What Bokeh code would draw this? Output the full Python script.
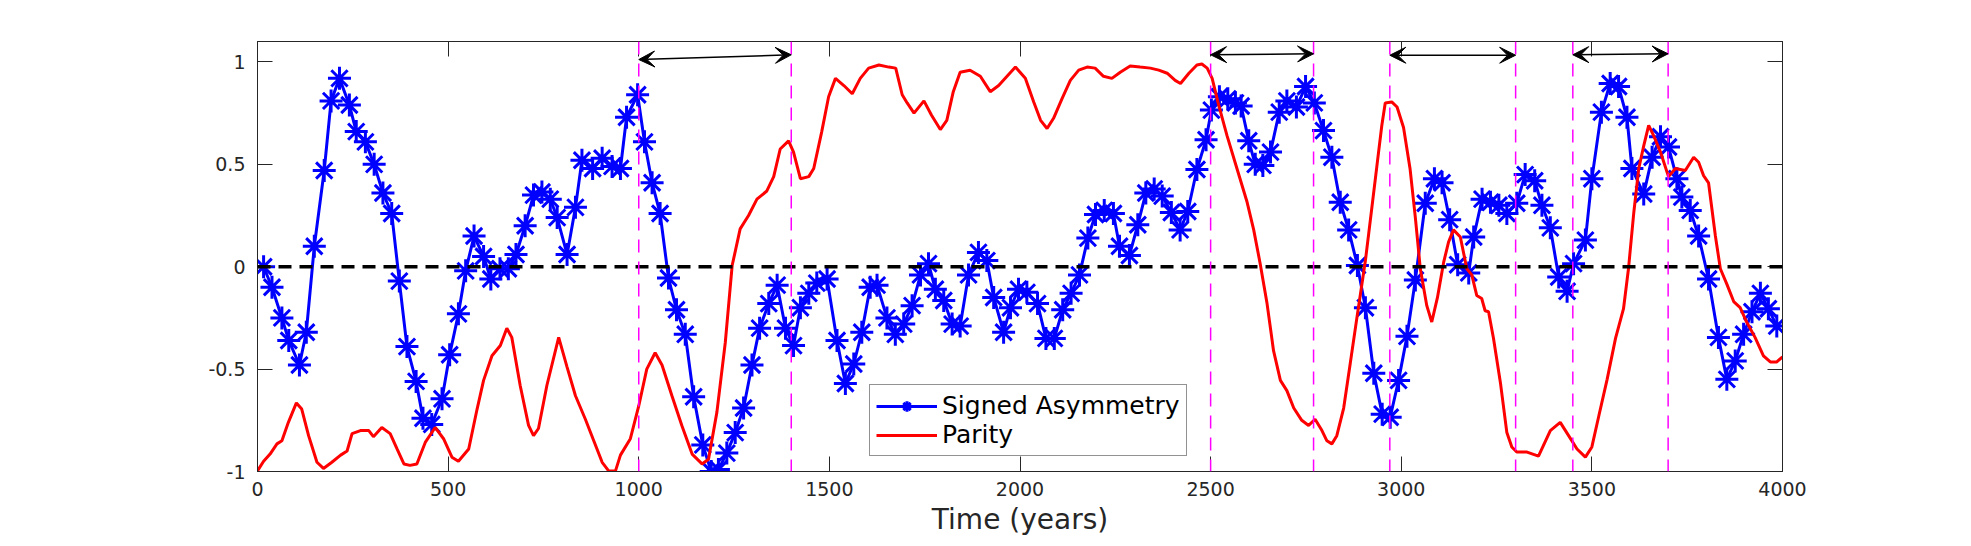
from bokeh.plotting import figure
from bokeh.models import (Range1d, LinearAxis, FixedTicker, Span, Arrow, VeeHead,
                          Legend, LegendItem, ColumnDataSource)
from bokeh.embed import file_html
from bokeh.resources import INLINE

# ---------------- data ----------------
asym_years = [16, 38, 64, 82, 110, 128, 149, 175, 193, 215,
              241, 259, 283, 306, 329, 352, 372, 392, 416, 434,
              457, 484, 504, 527, 546, 568, 593, 612, 636, 658,
              678, 702, 724, 746, 768, 786, 812, 834, 851, 879,
              904, 930, 952, 968, 997, 1015, 1035, 1056, 1078, 1099,
              1122, 1144, 1168, 1190, 1209, 1231, 1253, 1275, 1297, 1317,
              1341, 1363, 1385, 1406, 1424, 1446, 1467, 1494, 1520, 1542,
              1564, 1585, 1607, 1625, 1651, 1673, 1695, 1717, 1739, 1760,
              1778, 1800, 1822, 1843, 1865, 1891, 1913, 1931, 1957, 1975,
              1996, 2018, 2046, 2068, 2090, 2112, 2134, 2156, 2178, 2198,
              2221, 2245, 2261, 2287, 2309, 2330, 2352, 2373, 2397, 2420,
              2440, 2464, 2488, 2502, 2523, 2545, 2565, 2580, 2600, 2617,
              2637, 2657, 2680, 2700, 2725, 2749, 2772, 2796, 2818, 2840,
              2862, 2885, 2906, 2928, 2950, 2971, 2993, 3015, 3037, 3063,
              3087, 3107, 3127, 3148, 3177, 3190, 3212, 3234, 3256, 3277,
              3303, 3325, 3350, 3369, 3391, 3413, 3435, 3452, 3483, 3500,
              3525, 3548, 3570, 3592, 3605, 3636, 3658, 3680, 3701, 3723,
              3736, 3758, 3780, 3806, 3832, 3854, 3876, 3898, 3920, 3942,
              3963, 3985]
asym_values = [0.00, -0.10, -0.25, -0.36, -0.48, -0.32, 0.10, 0.47, 0.81, 0.92,
               0.79, 0.66, 0.61, 0.50, 0.36, 0.26, -0.07, -0.39, -0.56, -0.74,
               -0.77, -0.645, -0.43, -0.23, -0.02, 0.15, 0.05, -0.06, -0.01, -0.01,
               0.06, 0.20, 0.35, 0.365, 0.33, 0.24, 0.06, 0.29, 0.52, 0.48,
               0.53, 0.49, 0.48, 0.73, 0.84, 0.61, 0.41, 0.26, -0.055, -0.21,
               -0.33, -0.635, -0.87, -1.00, -0.99, -0.91, -0.81, -0.69, -0.48, -0.30,
               -0.18, -0.09, -0.30, -0.385, -0.20, -0.13, -0.08, -0.06, -0.36, -0.57,
               -0.475, -0.32, -0.10, -0.09, -0.25, -0.33, -0.28, -0.19, -0.04, 0.015,
               -0.11, -0.165, -0.28, -0.29, -0.04, 0.07, 0.03, -0.15, -0.32, -0.20,
               -0.11, -0.125, -0.18, -0.35, -0.35, -0.21, -0.13, -0.04, 0.14, 0.255,
               0.275, 0.26, 0.10, 0.055, 0.205, 0.36, 0.38, 0.345, 0.265, 0.18,
               0.27, 0.475, 0.62, 0.765, 0.83, 0.82, 0.80, 0.785, 0.615, 0.50,
               0.495, 0.56, 0.755, 0.81, 0.78, 0.88, 0.80, 0.665, 0.535, 0.315,
               0.18, 0.006, -0.20, -0.52, -0.72, -0.735, -0.555, -0.34, -0.065, 0.31,
               0.43, 0.41, 0.23, 0.01, -0.03, 0.145, 0.33, 0.315, 0.30, 0.26,
               0.31, 0.45, 0.42, 0.30, 0.19, -0.05, -0.12, 0.015, 0.13, 0.43,
               0.755, 0.895, 0.88, 0.73, 0.48, 0.355, 0.535, 0.635, 0.585, 0.43,
               0.34, 0.275, 0.15, -0.06, -0.345, -0.55, -0.46, -0.33, -0.22, -0.13,
               -0.205, -0.29]

parity_years = [0, 16, 33, 51, 64, 81, 102, 116, 134, 156,
                173, 195, 218, 235, 248, 270, 292, 304, 326, 348,
                366, 384, 400, 418, 440, 466, 488, 510, 527, 554,
                576, 593, 615, 637, 654, 667, 689, 711, 724, 737,
                759, 790, 812, 834, 860, 882, 904, 921, 939, 952,
                978, 1000, 1021, 1043, 1061, 1087, 1113, 1140, 1166, 1183,
                1205, 1227, 1245, 1266, 1288, 1310, 1336, 1354, 1371, 1393,
                1406, 1424, 1446, 1459, 1480, 1498, 1516, 1538, 1560, 1581,
                1603, 1630, 1656, 1674, 1691, 1704, 1722, 1748, 1768, 1791,
                1808, 1825, 1843, 1869, 1896, 1922, 1944, 1966, 1988, 2014,
                2036, 2054, 2071, 2088, 2110, 2132, 2154, 2176, 2197, 2219,
                2241, 2263, 2289, 2315, 2342, 2364, 2386, 2407, 2421, 2443,
                2464, 2477, 2491, 2504, 2521, 2543, 2569, 2595, 2613, 2630,
                2648, 2665, 2683, 2700, 2718, 2739, 2757, 2774, 2792, 2805,
                2818, 2831, 2849, 2866, 2884, 2906, 2923, 2936, 2949, 2958,
                2975, 2989, 3006, 3023, 3037, 3050, 3067, 3080, 3095, 3111,
                3124, 3137, 3155, 3172, 3185, 3198, 3211, 3220, 3229, 3242,
                3260, 3277, 3290, 3303, 3330, 3360, 3391, 3417, 3439, 3461,
                3483, 3500, 3518, 3540, 3562, 3583, 3596, 3610, 3623, 3636,
                3649, 3662, 3680, 3701, 3719, 3745, 3767, 3780, 3793, 3806,
                3824, 3837, 3854, 3872, 3889, 3906, 3928, 3950, 3968, 3985,
                4000]
parity_values = [-0.997, -0.95, -0.915, -0.865, -0.85, -0.76, -0.665, -0.695, -0.825, -0.955,
                 -0.985, -0.955, -0.92, -0.90, -0.815, -0.80, -0.80, -0.83, -0.785, -0.815,
                 -0.89, -0.963, -0.97, -0.963, -0.858, -0.785, -0.84, -0.93, -0.95, -0.89,
                 -0.695, -0.555, -0.435, -0.385, -0.30, -0.345, -0.58, -0.775, -0.825, -0.79,
                 -0.58, -0.345, -0.49, -0.63, -0.745, -0.85, -0.955, -0.997, -0.997, -0.92,
                 -0.84, -0.68, -0.50, -0.42, -0.48, -0.63, -0.775, -0.915, -0.963, -0.94,
                 -0.71, -0.37, 0.006, 0.185, 0.25, 0.33, 0.37, 0.44, 0.575, 0.615,
                 0.56, 0.43, 0.44, 0.48, 0.66, 0.83, 0.92, 0.885, 0.845, 0.92,
                 0.97, 0.985, 0.975, 0.97, 0.84, 0.80, 0.75, 0.81, 0.74, 0.67,
                 0.715, 0.855, 0.95, 0.96, 0.93, 0.855, 0.885, 0.93, 0.975, 0.92,
                 0.805, 0.715, 0.675, 0.725, 0.82, 0.91, 0.96, 0.975, 0.97, 0.93,
                 0.92, 0.95, 0.98, 0.975, 0.97, 0.96, 0.945, 0.91, 0.895, 0.945,
                 0.985, 0.99, 0.97, 0.92, 0.79, 0.64, 0.48, 0.32, 0.18, 0.015,
                 -0.18, -0.41, -0.555, -0.605, -0.69, -0.75, -0.775, -0.745, -0.80, -0.85,
                 -0.865, -0.825, -0.69, -0.475, -0.245, 0.03, 0.29, 0.49, 0.69, 0.80,
                 0.805, 0.78, 0.68, 0.48, 0.24, -0.01, -0.19, -0.27, -0.15, 0.02,
                 0.12, 0.18, 0.145, -0.01, -0.04, -0.14, -0.155, -0.215, -0.22, -0.35,
                 -0.565, -0.81, -0.88, -0.905, -0.905, -0.925, -0.80, -0.76, -0.825, -0.89,
                 -0.93, -0.88, -0.73, -0.55, -0.35, -0.205, -0.01, 0.265, 0.48, 0.59,
                 0.69, 0.64, 0.56, 0.44, 0.48, 0.47, 0.535, 0.51, 0.445, 0.41,
                 0.15, -0.01, -0.085, -0.17, -0.20, -0.27, -0.345, -0.435, -0.465, -0.465,
                 -0.44]

event_lines = [1000, 1400, 2500, 2770, 2970, 3300, 3450, 3700]
arrow_x_start = [1000, 2500, 2970, 3450]
arrow_x_end = [1400, 2770, 3300, 3700]
arrow_y_start = [1.012, 1.035, 1.033, 1.035]
arrow_y_end = [1.035, 1.04, 1.033, 1.04]

x_ticks = [0, 500, 1000, 1500, 2000, 2500, 3000, 3500, 4000]
y_ticks = [-1, -0.5, 0, 0.5, 1]
y_tick_labels = ["-1", "-0.5", "0", "0.5", "1"]
x_label = "Time (years)"
series_labels = ["Signed Asymmetry", "Parity"]

# ---------------- styling ----------------
FONT = "DejaVu Sans"
AXC = "#262626"

p = figure(width=1971, height=546, output_backend="svg", toolbar_location=None,
           x_range=Range1d(0, 4000), y_range=Range1d(-1, 1.1),
           min_border_left=257, min_border_right=189,
           min_border_top=41, min_border_bottom=75,
           background_fill_color="white", border_fill_color="white")
p.xgrid.visible = False
p.ygrid.visible = False
p.outline_line_color = AXC
p.outline_line_width = 1

def style_axis(ax, ticks, labels=True):
    ax.ticker = FixedTicker(ticks=ticks)
    ax.major_tick_in = 15
    ax.major_tick_out = 0
    ax.minor_tick_in = 0
    ax.minor_tick_out = 0
    ax.axis_line_color = AXC
    ax.major_tick_line_color = AXC
    ax.major_label_text_font = FONT
    ax.major_label_text_font_size = "19px"
    ax.major_label_text_color = AXC
    if not labels:
        ax.major_label_overrides = {t: "" for t in ticks}

style_axis(p.xaxis[0], x_ticks)
p.xaxis[0].major_label_standoff = 10
p.xaxis[0].axis_label = x_label
p.xaxis[0].axis_label_text_font = FONT
p.xaxis[0].axis_label_text_font_size = "28px"
p.xaxis[0].axis_label_text_font_style = "normal"
p.xaxis[0].axis_label_text_color = AXC
p.xaxis[0].axis_label_standoff = 4

style_axis(p.yaxis[0], y_ticks)
p.yaxis[0].major_label_standoff = 12
p.yaxis[0].major_label_overrides = {t: l for t, l in zip(y_ticks, y_tick_labels)}

top_axis = LinearAxis()
style_axis(top_axis, x_ticks, labels=False)
p.add_layout(top_axis, "above")
right_axis = LinearAxis()
style_axis(right_axis, y_ticks, labels=False)
p.add_layout(right_axis, "right")

# zero line
p.add_layout(Span(location=0, dimension="width", line_color="black",
                  line_width=3.5, line_dash="13 8"))

# event lines
for xv in event_lines:
    p.add_layout(Span(location=xv, dimension="height", line_color="#ff00ff",
                      line_width=1.5, line_dash="13 9"))

# data
asym_line = p.line(asym_years, asym_values, line_color="#0000ff", line_width=3)
asym_mark = p.scatter(asym_years, asym_values, marker="asterisk", size=23,
                      line_color="#0000ff", line_width=3)
par_line = p.line(parity_years, parity_values, line_color="#ff0000", line_width=3)

# arrows
arr_src = ColumnDataSource(dict(x0=arrow_x_start, x1=arrow_x_end,
                                y0=arrow_y_start, y1=arrow_y_end))
p.add_layout(Arrow(source=arr_src, x_start="x0", y_start="y0", x_end="x1", y_end="y1",
                   line_color="black", line_width=1.5,
                   start=VeeHead(size=16, fill_color="black", line_color="black"),
                   end=VeeHead(size=16, fill_color="black", line_color="black")))

legend = Legend(items=[LegendItem(label=series_labels[0], renderers=[asym_line, asym_mark]),
                       LegendItem(label=series_labels[1], renderers=[par_line])],
                location=(612, 15))
legend.label_text_font = FONT
legend.label_text_font_size = "25px"
legend.label_text_color = "black"
legend.border_line_color = AXC
legend.border_line_width = 1
legend.background_fill_color = "white"
legend.background_fill_alpha = 1
legend.glyph_width = 61
legend.glyph_height = 26
legend.label_height = 26
legend.label_standoff = 5
legend.padding = 6
legend.spacing = 0
legend.margin = 0
p.add_layout(legend)

open("out.html", "w").write(file_html(p, INLINE))
